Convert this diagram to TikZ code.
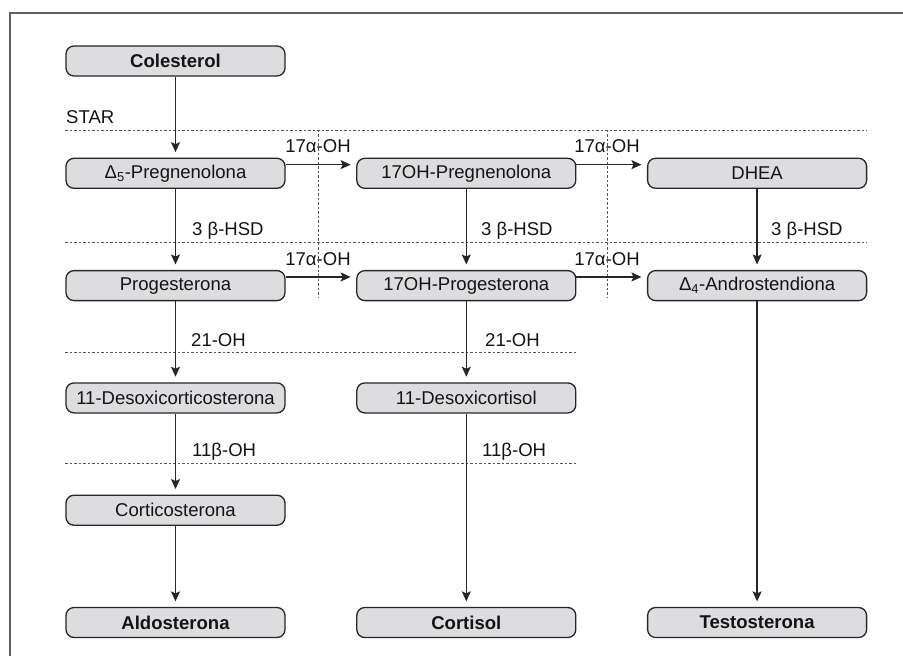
\documentclass[tikz,border=0pt]{standalone}
\usepackage{fontspec}
\setmainfont{Liberation Sans}
\usetikzlibrary{positioning, arrows.meta}
\definecolor{boxfill}{RGB}{221,221,223}
\definecolor{inkline}{RGB}{38,38,38}
\definecolor{sepline}{RGB}{85,85,85}
\definecolor{framegray}{RGB}{95,95,95}

\begin{document}
\begin{tikzpicture}[
    x=1bp, y=-1bp,
    node distance=81bp and 70.5bp,
    every node/.style={font=\fontsize{18.6}{21}\selectfont, text=black!92},
    hormone/.style={rectangle, rounded corners=8bp, draw=inkline, line width=1.3bp,
                    fill=boxfill, minimum width=219bp, minimum height=30bp, inner sep=2bp},
    final/.style={hormone, font=\fontsize{18.6}{21}\selectfont\bfseries},
    arrow/.style={line width=1.25bp, inkline, -{Stealth[length=10bp, width=9bp, inset=2bp]},
                  shorten >=5.5bp},
    sep/.style={sepline, line width=0.9bp, dash pattern=on 2.5bp off 2bp},
    enzyme/.style={inner sep=0pt}
]
\useasboundingbox (0,0) rectangle (903,656);
\draw[framegray, line width=1.6bp] (10,656) |- (903,13);

% hormones
\node[final] (colest) at (175.5,61) {Colesterol};
\node[hormone, below=of colest] (preg) {Δ\textsubscript{5}-Pregnenolona};
\node[hormone, right=of preg] (ohpreg) {17OH-Pregnenolona};
\node[hormone, right=of ohpreg] (dhea) {DHEA};
\node[hormone, below=of preg] (prog) {Progesterona};
\node[hormone, right=of prog] (ohprog) {17OH-Progesterona};
\node[hormone, right=of ohprog] (andro) {Δ\textsubscript{4}-Androstendiona};
\node[hormone, below=of prog] (doc) {11-Desoxicorticosterona};
\node[hormone, right=of doc] (desoxcort) {11-Desoxicortisol};
\node[hormone, below=of doc] (cortico) {Corticosterona};
\node[final, below=of cortico] (aldo) {Aldosterona};
\node[final, right=of aldo] (cortisol) {Cortisol};
\node[final, right=of cortisol] (testo) {Testosterona};

% enzyme steps
\draw[sep] (preg.west |- 0,130) -- (dhea.east |- 0,130);
\draw[sep] (preg.west |- 0,242) -- (dhea.east |- 0,242);
\draw[sep] (preg.west |- 0,352) -- (ohprog.east |- 0,352);
\draw[sep] (preg.west |- 0,463) -- (ohprog.east |- 0,463);
\draw[sep] (318,130) -- (318,298);
\draw[sep] (607,130) -- (607,298);

\node[enzyme, anchor=base west] (star) at (66,124) {STAR};
\node[enzyme, anchor=base] (hydA) at (318,153) {17α-OH};
\node[enzyme, anchor=base] (hydB) at (607,153) {17α-OH};
\node[enzyme, anchor=base] (hydC) at (318,265) {17α-OH};
\node[enzyme, anchor=base] (hydD) at (607,265) {17α-OH};
\node[enzyme, anchor=base west] (hsdA) at (192,235) {3 β-HSD};
\node[enzyme, anchor=base west] (hsdB) at (481,235) {3 β-HSD};
\node[enzyme, anchor=base west] (hsdC) at (771,235) {3 β-HSD};
\node[enzyme, anchor=base west] (ohA) at (191,346.5) {21-OH};
\node[enzyme, anchor=base west] (ohB) at (485,346.5) {21-OH};
\node[enzyme, anchor=base west] (betaA) at (192,456.5) {11β-OH};
\node[enzyme, anchor=base west] (betaB) at (482,456.5) {11β-OH};

% pathways
\draw[arrow] (colest) -- (preg);
\draw[arrow] (preg) -- (prog);
\draw[arrow] (ohpreg) -- (ohprog);
\draw[arrow] (dhea) -- (andro);
\draw[arrow] (prog) -- (doc);
\draw[arrow] (ohprog) -- (desoxcort);
\draw[arrow] (doc) -- (cortico);
\draw[arrow] (cortico) -- (aldo);
\draw[arrow] (desoxcort) -- (cortisol);
\draw[arrow] (andro) -- (testo);
\draw[arrow] ([yshift=-7bp]preg.north east) -- ([yshift=-7bp]ohpreg.north west);
\draw[arrow] ([yshift=-7bp]ohpreg.north east) -- ([yshift=-7bp]dhea.north west);
\draw[arrow] ([yshift=-7bp]prog.north east) -- ([yshift=-7bp]ohprog.north west);
\draw[arrow] ([yshift=-7bp]ohprog.north east) -- ([yshift=-7bp]andro.north west);
\end{tikzpicture}
\end{document}
